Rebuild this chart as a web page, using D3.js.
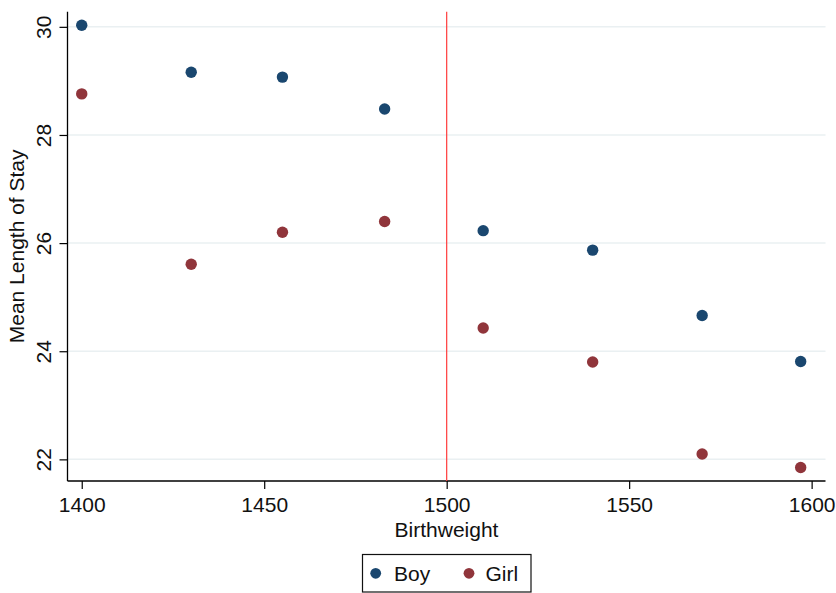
<!DOCTYPE html>
<html>
<head>
<meta charset="utf-8">
<script src="https://cdn.jsdelivr.net/npm/d3@7"></script>
<style>
  html, body { margin: 0; padding: 0; background: #fff; }
  svg { display: block; font-family: "Liberation Sans", Arial, Helvetica, sans-serif; }
</style>
</head>
<body>
<svg id="chart" width="836" height="593"></svg>
<script>
// ---- data ----
const birthweight = [1400, 1430, 1455, 1483, 1510, 1540, 1570, 1597];
const boyStay  = [30.03, 29.16, 29.07, 28.48, 26.23, 25.87, 24.66, 23.81];
const girlStay = [28.76, 25.61, 26.20, 26.40, 24.43, 23.80, 22.10, 21.85];
const xTicks = [1400, 1450, 1500, 1550, 1600];
const yTicks = [22, 24, 26, 28, 30];
const cutoff = 1500;
const seriesNames = ["Boy", "Girl"];
const seriesColors = ["#1a476f", "#90353b"];

(function () {
// ---- layout ----
const svg = d3.select("#chart");
const pL = 67.5, pR = 825.5, pT = 11.7, pB = 481;
const x = d3.scaleLinear().domain([1396.1, 1603.8]).range([pL, pR]);
const y = d3.scaleLinear().domain([21.6, 30.28]).range([pB, pT]);

// gridlines
svg.append("g").selectAll("line").data(yTicks).join("line")
  .attr("x1", pL).attr("x2", pR)
  .attr("y1", d => y(d)).attr("y2", d => y(d))
  .attr("stroke", "#eaf0f2").attr("stroke-width", 1.5);

// x axis
const xAxis = svg.append("g").attr("transform", `translate(0,${pB})`)
  .call(d3.axisBottom(x).tickValues(xTicks).tickSize(8).tickPadding(8).tickFormat(d3.format("d")));
xAxis.select(".domain").attr("d", `M${pL},0H${pR}`).attr("stroke", "#000").attr("stroke-width", 1.3);
xAxis.selectAll(".tick line").attr("stroke", "#000").attr("stroke-width", 1.2);
xAxis.selectAll(".tick text").attr("font-size", 21).attr("fill", "#111")
  .attr("font-family", "Liberation Sans, Arial, sans-serif");

// y axis
const yAxis = svg.append("g").attr("transform", `translate(${pL},0)`)
  .call(d3.axisLeft(y).tickValues(yTicks).tickSize(8).tickPadding(9));
yAxis.select(".domain").attr("d", `M0,${pT}V${pB}`).attr("stroke", "#000").attr("stroke-width", 1.3);
yAxis.selectAll(".tick line").attr("stroke", "#000").attr("stroke-width", 1.2);
yAxis.selectAll(".tick text")
  .attr("font-size", 21).attr("fill", "#111")
  .attr("font-family", "Liberation Sans, Arial, sans-serif")
  .attr("x", null).attr("dy", null)
  .attr("text-anchor", "middle")
  .attr("transform", "translate(-17,0) rotate(-90)");

// reference line
svg.append("line")
  .attr("x1", x(cutoff)).attr("x2", x(cutoff))
  .attr("y1", pT).attr("y2", pB)
  .attr("stroke", "#ff3b3b").attr("stroke-width", 1.2);

// axis titles
svg.append("text").attr("x", (pL + pR) / 2).attr("y", 537)
  .attr("text-anchor", "middle").attr("font-size", 21).attr("fill", "#111")
  .text("Birthweight");
svg.append("text")
  .attr("transform", `translate(24,${(pT + pB) / 2}) rotate(-90)`)
  .attr("text-anchor", "middle").attr("font-size", 21).attr("fill", "#111")
  .text("Mean Length of Stay");

// points
const seriesData = [boyStay, girlStay];
seriesData.forEach((vals, i) => {
  svg.append("g").selectAll("circle").data(birthweight.map((bw, j) => [bw, vals[j]])).join("circle")
    .attr("cx", d => x(d[0])).attr("cy", d => y(d[1]))
    .attr("r", 5.7).attr("fill", seriesColors[i]);
});

// legend
const lg = svg.append("g");
lg.append("rect").attr("x", 362.5).attr("y", 554.5).attr("width", 168.5).attr("height", 37.5)
  .attr("fill", "#fff").attr("stroke", "#111").attr("stroke-width", 1.2);
const legendItems = [{dx: 375.7, tx: 394}, {dx: 469, tx: 485.5}];
seriesNames.forEach((name, i) => {
  lg.append("circle").attr("cx", legendItems[i].dx).attr("cy", 573.3).attr("r", 5.4).attr("fill", seriesColors[i]);
  lg.append("text").attr("x", legendItems[i].tx).attr("y", 581).attr("font-size", 21).attr("fill", "#111").text(name);
});
})();
</script>
</body>
</html>
